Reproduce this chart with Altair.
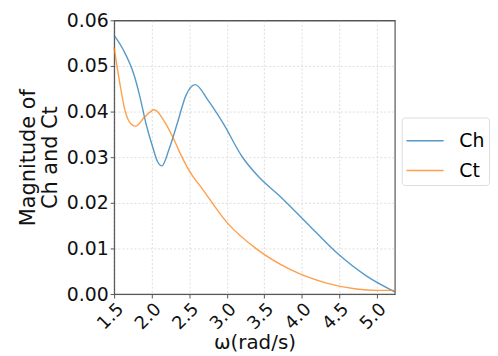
import altair as alt
import pandas as pd

ch_x = [1.5, 1.62, 1.77, 1.84, 1.93, 2.02, 2.08, 2.135, 2.235, 2.347, 2.456, 2.58,
        2.75, 2.95, 3.206, 3.426, 3.713, 4.066, 4.463, 4.86, 5.24]
ch_y = [0.0567, 0.0536, 0.0478, 0.0435, 0.0370, 0.0319, 0.0290, 0.0281, 0.0319, 0.0377,
        0.0435, 0.0459, 0.0425, 0.0375, 0.0301, 0.0257, 0.0214, 0.0156, 0.0091, 0.0040, 0.0005]
ct_x = [1.5, 1.574, 1.64, 1.706, 1.786, 1.905, 2.037, 2.148, 2.302, 2.393, 2.536, 2.655,
        3.008, 3.405, 3.845, 4.331, 4.728, 5.0, 5.24]
ct_y = [0.0540, 0.0464, 0.0406, 0.0377, 0.0368, 0.0388, 0.0404, 0.0384, 0.0337, 0.0304,
        0.0261, 0.0235, 0.0156, 0.0098, 0.0054, 0.0024, 0.0011, 0.0008, 0.0008]

df = pd.concat([
    pd.DataFrame({"w": ch_x, "v": ch_y, "s": "Ch"}),
    pd.DataFrame({"w": ct_x, "v": ct_y, "s": "Ct"}),
])

font = "DejaVu Sans"
chart = alt.Chart(df).mark_line(interpolate="monotone", strokeWidth=1.4, opacity=0.75).encode(
    x=alt.X("w:Q", scale=alt.Scale(domain=[1.5, 5.24], nice=False, zero=False),
            axis=alt.Axis(title="ω(rad/s)", values=[1.5, 2.0, 2.5, 3.0, 3.5, 4.0, 4.5, 5.0],
                          format=".1f", labelAngle=-45, labelAlign="right", labelBaseline="top",
                          labelFontSize=18, titleFontSize=20, titlePadding=0)),
    y=alt.Y("v:Q", scale=alt.Scale(domain=[0, 0.06], nice=False),
            axis=alt.Axis(title=["Magnitude of", "Ch and Ct"], values=[0, 0.01, 0.02, 0.03, 0.04, 0.05, 0.06],
                          format=".2f", labelFontSize=19, titleFontSize=21, titleLineHeight=22, titlePadding=6,
                          gridDash={"condition": {"test": "datum.value >= 0.06", "value": [1, 0]}, "value": [2, 2]},
                          gridColor={"condition": {"test": "datum.value >= 0.06", "value": "#555"}, "value": "#ddd"})),
    color=alt.Color("s:N", scale=alt.Scale(domain=["Ch", "Ct"], range=["#1f77b4", "#ff7f0e"]),
                    legend=alt.Legend(title=None, labelFontSize=19, symbolType="stroke",
                                      symbolStrokeWidth=1.5, symbolSize=1400, strokeColor="#ddd",
                                      padding=4, cornerRadius=3, orient="none", legendX=290, legendY=98,
                                      rowPadding=-7, labelOffset=15)),
).properties(width=283, height=276, padding={"left": 9, "top": 2, "right": 0, "bottom": 0}).configure_axis(
    labelFont=font, titleFont=font, labelColor="#111", titleColor="#111",
    gridColor="#ddd", gridDash=[2, 2], domainColor="#555", tickColor="#555",
    titleFontWeight="normal", tickSize=4,
).configure_legend(labelFont=font).configure_view(stroke="#555", strokeWidth=1.2)

chart.save("out.html", embed_options={"renderer": "svg", "actions": False})
